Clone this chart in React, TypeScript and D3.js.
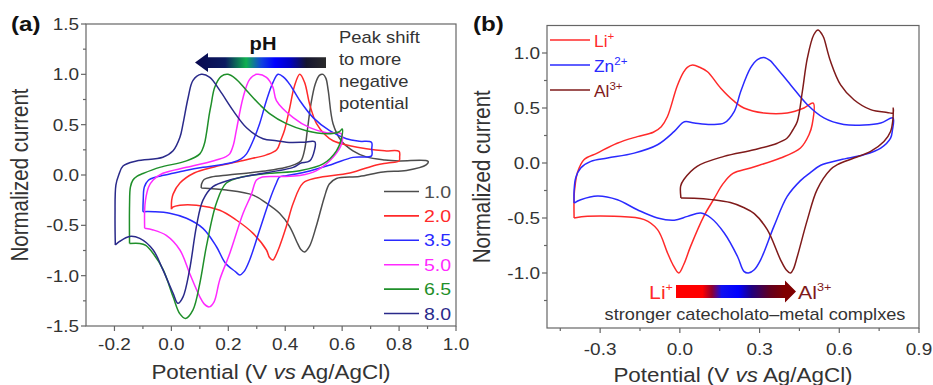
import * as d3 from 'd3';

const W = 933;
const H = 385;
const FONT = '"Liberation Sans", Arial, Helvetica, sans-serif';

type Pt = [number, number];

// ---- panel (a): CVs at different pH, [potential V, normalized current]
const phLabels = ['1.0', '2.0', '3.5', '5.0', '6.5', '8.0'];
const phColors = ['#4d4d4d', '#ff2a2a', '#2a2aff', '#ff2aff', '#1f8f2a', '#2a2a8a'];

const ph10: Pt[] = [
  [0.105, -0.13], [0.106, -0.09], [0.115, -0.045], [0.14, -0.02], [0.2, 0.0], [0.27, 0.02],
  [0.34, 0.045], [0.4, 0.075], [0.43, 0.1], [0.455, 0.14], [0.468, 0.25], [0.478, 0.45],
  [0.49, 0.7], [0.505, 0.9], [0.52, 0.99], [0.533, 1.0], [0.543, 0.96], [0.551, 0.84],
  [0.568, 0.51], [0.597, 0.34], [0.638, 0.24], [0.685, 0.18], [0.75, 0.15], [0.8, 0.14],
  [0.902, 0.136], [0.895, 0.1], [0.826, 0.045], [0.744, 0.03], [0.66, -0.015], [0.58, -0.035],
  [0.555, -0.09], [0.538, -0.215], [0.509, -0.51], [0.485, -0.71], [0.468, -0.765],
  [0.455, -0.74], [0.445, -0.69], [0.415, -0.51], [0.38, -0.38], [0.334, -0.28],
  [0.287, -0.2], [0.193, -0.15], [0.105, -0.13],
];
const ph20: Pt[] = [
  [0.0, -0.34], [0.001, -0.25], [0.006, -0.19], [0.03, -0.08], [0.08, 0.02], [0.15, 0.08],
  [0.26, 0.15], [0.334, 0.2], [0.37, 0.25], [0.385, 0.35], [0.398, 0.45], [0.416, 0.67],
  [0.432, 0.88], [0.451, 1.0], [0.468, 0.92], [0.486, 0.7], [0.51, 0.51], [0.54, 0.4],
  [0.568, 0.34], [0.627, 0.29], [0.685, 0.26], [0.75, 0.24], [0.8, 0.235], [0.802, 0.18],
  [0.8, 0.14], [0.76, 0.12], [0.72, 0.1], [0.627, 0.02], [0.51, -0.03], [0.463, -0.08],
  [0.428, -0.28], [0.404, -0.51], [0.38, -0.71], [0.365, -0.81], [0.357, -0.845],
  [0.345, -0.82], [0.334, -0.745], [0.287, -0.58], [0.228, -0.447], [0.17, -0.35],
  [0.088, -0.3], [0.03, -0.3], [0.005, -0.32], [0.0, -0.34],
];
const ph35: Pt[] = [
  [-0.1, -0.364], [-0.099, -0.25], [-0.095, -0.12], [-0.08, -0.05], [-0.053, -0.02],
  [-0.006, 0.01], [0.05, 0.045], [0.111, 0.076], [0.17, 0.1], [0.217, 0.126], [0.245, 0.16],
  [0.264, 0.21], [0.287, 0.34], [0.31, 0.51], [0.334, 0.74], [0.357, 0.92], [0.375, 1.0],
  [0.395, 0.97], [0.416, 0.9], [0.451, 0.74], [0.498, 0.57], [0.556, 0.44], [0.615, 0.36],
  [0.66, 0.335], [0.703, 0.325], [0.704, 0.26], [0.703, 0.19], [0.638, 0.175], [0.568, 0.11],
  [0.486, 0.04], [0.404, -0.007], [0.38, -0.02], [0.369, -0.08], [0.345, -0.25],
  [0.31, -0.546], [0.275, -0.844], [0.255, -0.96], [0.24, -0.993], [0.225, -0.96],
  [0.19, -0.877], [0.158, -0.71], [0.111, -0.53], [0.053, -0.43], [-0.006, -0.38],
  [-0.06, -0.365], [-0.1, -0.364],
];
const ph50: Pt[] = [
  [-0.094, -0.53], [-0.094, -0.35], [-0.091, -0.25], [-0.08, -0.12], [-0.064, -0.05],
  [-0.03, 0.017], [0.053, 0.076], [0.146, 0.14], [0.19, 0.18], [0.205, 0.21], [0.218, 0.3],
  [0.228, 0.44], [0.252, 0.77], [0.275, 0.95], [0.299, 1.0], [0.334, 0.97], [0.357, 0.87],
  [0.369, 0.74], [0.428, 0.57], [0.486, 0.47], [0.545, 0.42], [0.597, 0.41], [0.598, 0.31],
  [0.568, 0.176], [0.51, 0.043], [0.451, -0.005], [0.38, -0.015], [0.32, -0.02],
  [0.299, -0.05], [0.28, -0.2], [0.252, -0.38], [0.205, -0.78], [0.17, -1.04],
  [0.15, -1.26], [0.133, -1.31], [0.115, -1.28], [0.1, -1.21], [0.064, -0.976],
  [0.03, -0.745], [-0.018, -0.6], [-0.064, -0.546], [-0.094, -0.53],
];
const ph65: Pt[] = [
  [-0.147, -0.68], [-0.147, -0.3], [-0.144, -0.12], [-0.135, -0.05], [-0.12, -0.01],
  [-0.1, 0.015], [-0.041, 0.076], [0.053, 0.14], [0.1, 0.21], [0.115, 0.3], [0.123, 0.41],
  [0.133, 0.6], [0.14, 0.705], [0.152, 0.87], [0.175, 0.98], [0.199, 1.0], [0.228, 0.95],
  [0.264, 0.84], [0.31, 0.7], [0.345, 0.61], [0.404, 0.51], [0.474, 0.44], [0.545, 0.41],
  [0.59, 0.43], [0.6, 0.457], [0.598, 0.37], [0.58, 0.24], [0.533, 0.11], [0.451, 0.043],
  [0.345, 0.017], [0.252, -0.017], [0.193, -0.08], [0.158, -0.28], [0.123, -0.71],
  [0.1, -1.075], [0.076, -1.34], [0.05, -1.425], [0.03, -1.38], [0.006, -1.21],
  [-0.029, -0.94], [-0.064, -0.78], [-0.09, -0.7], [-0.111, -0.68], [-0.147, -0.68],
];
const ph80: Pt[] = [
  [-0.197, -0.695], [-0.198, -0.4], [-0.195, -0.1], [-0.185, 0.0], [-0.17, 0.09],
  [-0.123, 0.14], [-0.03, 0.176], [0.006, 0.24], [0.03, 0.374], [0.041, 0.51], [0.059, 0.77],
  [0.076, 0.94], [0.105, 1.0], [0.135, 0.97], [0.17, 0.84], [0.217, 0.64], [0.264, 0.47],
  [0.322, 0.36], [0.369, 0.34], [0.404, 0.325], [0.463, 0.325], [0.504, 0.33], [0.503, 0.25],
  [0.486, 0.14], [0.453, 0.116], [0.428, 0.076], [0.287, 0.0], [0.205, -0.05],
  [0.146, -0.116], [0.111, -0.25], [0.088, -0.51], [0.064, -0.94], [0.041, -1.21],
  [0.023, -1.275], [0.006, -1.175], [-0.03, -0.94], [-0.064, -0.745], [-0.111, -0.63],
  [-0.147, -0.61], [-0.182, -0.66], [-0.197, -0.695],
];
const phCurves = [ph10, ph20, ph35, ph50, ph65, ph80];

// ---- panel (b): CVs with metal ions
const ionNames = ['Li', 'Zn', 'Al'];
const ionCharges = ['+', '2+', '3+'];
const ionColors = ['#ff2a2a', '#2a2aff', '#7f1a1a'];

const li: Pt[] = [
  [-0.398, -0.5], [-0.398, -0.3], [-0.394, -0.2], [-0.386, -0.09], [-0.361, 0.03],
  [-0.311, 0.09], [-0.236, 0.18], [-0.16, 0.24], [-0.1, 0.28], [-0.07, 0.33], [-0.047, 0.42],
  [-0.01, 0.7], [0.015, 0.83], [0.028, 0.87], [0.048, 0.89], [0.075, 0.87], [0.104, 0.83],
  [0.154, 0.68], [0.205, 0.56], [0.241, 0.5], [0.316, 0.455], [0.404, 0.455], [0.467, 0.5],
  [0.502, 0.545], [0.498, 0.35], [0.486, 0.257], [0.454, 0.136], [0.379, 0.045],
  [0.266, -0.045], [0.2, -0.095], [0.162, -0.19], [0.13, -0.32], [0.09, -0.485],
  [0.04, -0.76], [0.015, -0.92], [-0.004, -1.0], [-0.025, -0.93], [-0.046, -0.82],
  [-0.084, -0.606], [-0.134, -0.515], [-0.247, -0.485], [-0.348, -0.485], [-0.398, -0.5],
];
const zn: Pt[] = [
  [-0.398, -0.364], [-0.398, -0.25], [-0.392, -0.136], [-0.373, -0.045], [-0.335, 0.015],
  [-0.272, 0.045], [-0.172, 0.09], [-0.084, 0.166], [-0.021, 0.287], [0.017, 0.375],
  [0.054, 0.364], [0.117, 0.35], [0.167, 0.364], [0.205, 0.47], [0.229, 0.65],
  [0.266, 0.864], [0.292, 0.94], [0.316, 0.96], [0.34, 0.93], [0.354, 0.894], [0.417, 0.71],
  [0.48, 0.53], [0.542, 0.41], [0.617, 0.35], [0.693, 0.345], [0.756, 0.364], [0.802, 0.41],
  [0.8, 0.3], [0.793, 0.227], [0.756, 0.136], [0.693, 0.075], [0.605, 0.03], [0.53, -0.02],
  [0.49, -0.09], [0.454, -0.16], [0.404, -0.304], [0.354, -0.576], [0.304, -0.88],
  [0.28, -0.97], [0.258, -1.0], [0.241, -0.985], [0.217, -0.85], [0.167, -0.636],
  [0.117, -0.5], [0.079, -0.455], [0.029, -0.485], [-0.021, -0.52], [-0.084, -0.5],
  [-0.16, -0.425], [-0.235, -0.334], [-0.31, -0.3], [-0.373, -0.334], [-0.398, -0.364],
];
const al: Pt[] = [
  [0.004, -0.318], [0.003, -0.21], [0.015, -0.15], [0.065, -0.03], [0.166, 0.06],
  [0.279, 0.12], [0.367, 0.18], [0.404, 0.227], [0.425, 0.3], [0.442, 0.378], [0.461, 0.65],
  [0.48, 0.955], [0.504, 1.166], [0.52, 1.21], [0.535, 1.17], [0.542, 1.136], [0.567, 0.924],
  [0.605, 0.71], [0.655, 0.575], [0.718, 0.485], [0.78, 0.46], [0.802, 0.455], [0.803, 0.5],
  [0.802, 0.4], [0.793, 0.287], [0.768, 0.196], [0.718, 0.106], [0.655, 0.045],
  [0.593, -0.015], [0.567, -0.06], [0.517, -0.24], [0.48, -0.515], [0.442, -0.85],
  [0.428, -0.96], [0.417, -1.0], [0.4, -0.97], [0.379, -0.88], [0.329, -0.606],
  [0.28, -0.46], [0.24, -0.405], [0.19, -0.36], [0.12, -0.333], [0.054, -0.32],
  [0.004, -0.318],
];
const ionCurves = [li, zn, al];

// ---- ticks
const aXTicks = [-0.2, 0, 0.2, 0.4, 0.6, 0.8, 1.0];
const aXMinor = [-0.1, 0.1, 0.3, 0.5, 0.7, 0.9];
const aYTicks = [-1.5, -1, -0.5, 0, 0.5, 1, 1.5];
const aYMinor = [-1.25, -0.75, -0.25, 0.25, 0.75, 1.25];
const bXTicks = [-0.3, 0, 0.3, 0.6, 0.9];
const bXMinor = [-0.45, -0.15, 0.15, 0.45, 0.75];
const bYTicks = [-1, -0.5, 0, 0.5, 1];
const bYMinor = [-1.25, -0.75, -0.25, 0.25, 0.75];

const fmt = (v: number) => d3.format('.1f')(v).replace('−', '-');

function T(props: any) {
  const { x, y, size, anchor = 'start', sx = 1.15, weight = 'normal', fill = '#333', children } = props;
  return (
    <text
      transform={`translate(${x},${y}) scale(${sx},1)`}
      fontSize={size}
      textAnchor={anchor}
      fontWeight={weight}
      fill={fill}
      fontFamily={FONT}
    >
      {children}
    </text>
  );
}

function Axes(props: any) {
  const { x, y, xTicks, xMinor, yTicks, yMinor, labelY, titleY, yTitleX } = props;
  const [x0, x1] = x.range();
  const [y0, y1] = y.range();
  const axisCol = '#666';
  return (
    <g>
      <rect x={x0} y={y1} width={x1 - x0} height={y0 - y1} fill="none" stroke={axisCol} strokeWidth={1.2} />
      {xTicks.map((t: number) => (
        <g key={'xt' + t}>
          <line x1={x(t)} x2={x(t)} y1={y0} y2={y0 + 5} stroke={axisCol} strokeWidth={1.2} />
          <T x={x(t)} y={labelY} size={16.5} anchor="middle">{fmt(t)}</T>
        </g>
      ))}
      {xMinor.map((t: number) => (
        <line key={'xm' + t} x1={x(t)} x2={x(t)} y1={y0} y2={y0 + 3} stroke={axisCol} strokeWidth={1.2} />
      ))}
      {yTicks.map((t: number) => (
        <g key={'yt' + t}>
          <line x1={x0 - 5} x2={x0} y1={y(t)} y2={y(t)} stroke={axisCol} strokeWidth={1.2} />
          <T x={x0 - 7} y={y(t) + 6} size={16.5} anchor="end">{fmt(t)}</T>
        </g>
      ))}
      {yMinor.map((t: number) => (
        <line key={'ym' + t} x1={x0 - 3} x2={x0} y1={y(t)} y2={y(t)} stroke={axisCol} strokeWidth={1.2} />
      ))}
      <T x={(x0 + x1) / 2} y={titleY} size={19.5} anchor="middle">
        Potential (V <tspan fontStyle="italic">vs</tspan> Ag/AgCl)
      </T>
      <text
        transform={`translate(${yTitleX},${(y0 + y1) / 2}) rotate(-90) scale(1,1.15)`}
        fontSize={20.5}
        textAnchor="middle"
        fill="#333"
        fontFamily={FONT}
      >
        Normalized current
      </text>
    </g>
  );
}

export default function App() {
  const aX = d3.scaleLinear().domain([-0.3, 1.0]).range([86, 456]);
  const aY = d3.scaleLinear().domain([-1.5, 1.5]).range([326, 24]);
  const bX = d3.scaleLinear().domain([-0.5, 0.9]).range([547, 919]);
  const bY = d3.scaleLinear().domain([-1.5, 1.25]).range([328, 25.5]);

  const lineA = d3
    .line<Pt>()
    .x((d) => aX(d[0]))
    .y((d) => aY(d[1]))
    .curve(d3.curveCatmullRom.alpha(0.5));
  const lineB = d3
    .line<Pt>()
    .x((d) => bX(d[0]))
    .y((d) => bY(d[1]))
    .curve(d3.curveCatmullRom.alpha(0.5));

  return (
    <svg
      width={W}
      height={H}
      style={{ position: 'absolute', left: 0, top: 0, background: '#fff' }}
    >
      <defs>
        <linearGradient id="phGrad" gradientUnits="userSpaceOnUse" x1={195} x2={326} y1={0} y2={0}>
          <stop offset={0} stopColor="#0a0a50" />
          <stop offset={0.23} stopColor="#0a1a60" />
          <stop offset={0.39} stopColor="#10b050" />
          <stop offset={0.51} stopColor="#1040e0" />
          <stop offset={0.61} stopColor="#0000ff" />
          <stop offset={0.72} stopColor="#0000c8" />
          <stop offset={0.85} stopColor="#151530" />
          <stop offset={1} stopColor="#2a2a2a" />
        </linearGradient>
        <linearGradient id="ionGrad" gradientUnits="userSpaceOnUse" x1={676} x2={796} y1={0} y2={0}>
          <stop offset={0} stopColor="#ff0000" />
          <stop offset={0.22} stopColor="#ff0000" />
          <stop offset={0.3} stopColor="#900030" />
          <stop offset={0.38} stopColor="#1010f0" />
          <stop offset={0.52} stopColor="#0000ff" />
          <stop offset={0.63} stopColor="#200080" />
          <stop offset={0.78} stopColor="#600020" />
          <stop offset={0.9} stopColor="#800000" />
          <stop offset={1} stopColor="#800000" />
        </linearGradient>
      </defs>

      {/* panel (a) */}
      <Axes x={aX} y={aY} xTicks={aXTicks} xMinor={aXMinor} yTicks={aYTicks} yMinor={aYMinor}
        labelY={350} titleY={379} yTitleX={28} />
      {phCurves.map((c, i) => (
        <path key={'ph' + i} d={lineA(c) || ''} fill="none" stroke={phColors[i]} strokeWidth={1.5} />
      ))}
      {phLabels.map((lab, i) => {
        const ly = 191.5 + i * 24.4;
        return (
          <g key={'la' + i}>
            <line x1={384} x2={419} y1={ly} y2={ly} stroke={phColors[i]} strokeWidth={1.6} />
            <T x={424} y={ly + 6} size={17} fill={phColors[i]}>{lab}</T>
          </g>
        );
      })}
      <polygon points="195,62.5 208,53 208,57.3 326,57.3 326,68 208,68 208,72" fill="url(#phGrad)" />
      <T x={263} y={50} size={17.5} weight="bold" anchor="middle" fill="#111">pH</T>
      {['Peak shift', 'to more', 'negative', 'potential'].map((s, i) => (
        <T key={s} x={339} y={42.5 + i * 22} size={16}>{s}</T>
      ))}
      <T x={11} y={31} size={21} weight="bold" fill="#111">(a)</T>

      {/* panel (b) */}
      <Axes x={bX} y={bY} xTicks={bXTicks} xMinor={bXMinor} yTicks={bYTicks} yMinor={bYMinor}
        labelY={355} titleY={382} yTitleX={490} />
      {ionCurves.map((c, i) => (
        <path key={'ion' + i} d={lineB(c) || ''} fill="none" stroke={ionColors[i]} strokeWidth={1.5} />
      ))}
      {ionNames.map((n, i) => {
        const ly = 40 + i * 25;
        return (
          <g key={'lb' + i}>
            <line x1={550} x2={590} y1={ly} y2={ly} stroke={ionColors[i]} strokeWidth={1.6} />
            <T x={594} y={ly + 6.5} size={16.5} sx={1.05} fill={ionColors[i]}>
              {n}
              <tspan dy={-7} fontSize={11}>{ionCharges[i]}</tspan>
            </T>
          </g>
        );
      })}
      <polygon points="676,285 785,285 785,280.5 796,291.5 785,302.5 785,298 676,298" fill="url(#ionGrad)" />
      <T x={673} y={298.5} size={18.5} anchor="end" fill={ionColors[0]}>
        Li<tspan dy={-8} fontSize={11}>+</tspan>
      </T>
      <T x={798} y={298.5} size={18.5} fill={ionColors[2]}>
        Al<tspan dy={-8} fontSize={11}>3+</tspan>
      </T>
      <T x={755} y={320} size={15.8} anchor="middle">stronger catecholato–metal complxes</T>
      <T x={473} y={31} size={21} weight="bold" fill="#111">(b)</T>
    </svg>
  );
}
